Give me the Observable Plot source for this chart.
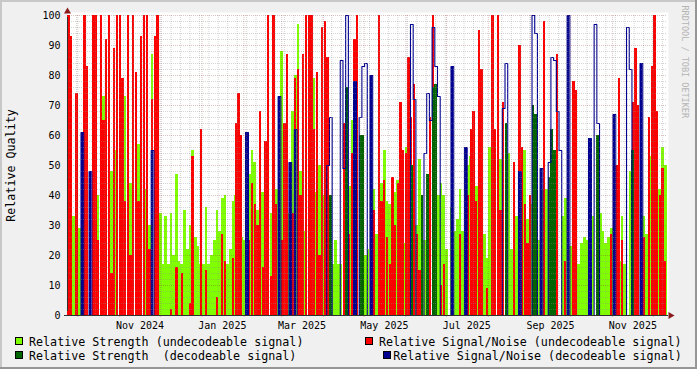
<!DOCTYPE html>
<html><head><meta charset="utf-8">
<script src="https://cdn.jsdelivr.net/npm/d3@7"></script>
<script src="https://cdn.jsdelivr.net/npm/@observablehq/plot@0.6"></script>
<style>
html,body{margin:0;padding:0;background:#f0f0f0;}
#wrap{position:relative;width:697px;height:369px;background:#f0f0f0;overflow:hidden;font-family:"DejaVu Sans Mono",monospace;}
#wrap svg{position:absolute;left:0;top:0;}
.b{position:absolute;}
.leg{position:absolute;white-space:pre;font-size:11.7px;line-height:14px;color:#000;}
.sw{position:absolute;width:6px;height:6px;border:1px solid #000;}
</style></head>
<body><div id="wrap"></div>
<script>
// ---- data: one value every 2 days, starting 2024-09-23 ----
const binDays = 2;
const strengthUndec = [
35,50,33,34,29,45,40,null,null,null,
null,40,null,73,null,null,48,55,null,null,
null,73,null,44,null,null,57,null,null,42,
30,87,null,null,34,17,33,17,34,20,
47,18,17,35,22,30,55,26,23,17,
17,36,17,20,25,35,28,39,40,17,
22,38,40,26,26,25,17,47,55,51,
35,45,41,34,null,34,null,42,23,88,
34,40,34,68,80,97,48,28,97,null,
null,79,41,50,40,null,null,null,17,25,
17,17,null,null,43,65,null,null,58,null,
20,22,null,42,27,22,44,55,38,37,
35,41,45,17,24,56,null,null,45,30,
52,40,25,null,null,null,null,40,44,40,
22,null,36,28,32,42,28,null,50,53,
52,43,null,33,27,19,56,null,null,null,
52,null,null,54,22,21,33,null,36,55,
32,37,61,62,25,17,42,42,17,null,
null,null,null,33,39,29,23,37,29,17,
24,26,25,19,33,null,null,34,28,24,
26,29,34,24,18,33,17,null,48,null,
null,null,55,33,27,34,53,48,38,42,
56,50];
const snUndec = [
100,93,null,74,null,null,100,83,null,100,
100,25,100,65,92,100,14,89,100,100,
79,38,100,20,100,81,38,93,100,100,
22,72,93,100,null,null,null,null,2,null,
16,null,14,null,null,4,53,null,null,62,
null,15,null,null,null,6,null,27,18,null,
null,19,64,74,60,null,null,25,44,37,
30,68,16,58,100,13,100,37,null,25,
64,87,null,34,79,82,40,87,100,100,
100,62,81,20,96,98,86,null,null,null,
null,null,64,null,27,54,92,100,null,null,
null,null,null,35,null,100,38,45,26,17,
46,30,44,71,55,54,86,66,77,27,
15,null,null,null,66,100,52,null,10,17,
null,null,null,null,null,27,null,null,40,62,
68,38,95,82,null,9,null,100,62,100,
35,71,null,null,null,51,null,90,56,37,
24,40,null,null,null,null,98,null,null,null,
null,87,null,null,18,null,null,78,75,null,
null,null,null,null,null,null,58,null,null,null,
null,27,null,50,79,25,null,null,null,71,
89,70,null,26,null,66,83,100,68,40,
49,18];
// decodeable days: [bin index, value]
const strengthDec = [[97,40],[103,76],[108,60],[109,60],[127,50],[131,40],[133,47],[135,76],[136,77],
  [162,64],[172,70],[173,67],[178,46],[179,62],[180,55],[196,60],[209,55]];
const snDec = [[5,61],[8,48],[31,55],[66,61],[78,73],[82,51],[84,62],[96,50],[97,66],[101,85],[102,49],
  [103,100],[106,78],[108,66],[109,83],[110,84],[112,80],[127,97],[128,72],[132,54],[133,74],[134,65],
  [135,96],[136,83],[137,73],[142,83],[147,56],[161,69],[162,84],[167,48],[172,100],[173,94],[175,49],
  [178,51],[179,86],[180,85],[181,68],[182,55],[185,100],[193,59],[195,97],[196,64],[202,67],[207,96],
  [208,82],[212,84]];
const yTicks = [0,10,20,30,40,50,60,70,80,90,100];
const xTickDates = ["2024-11-16","2025-01-16","2025-03-16","2025-05-16","2025-07-16","2025-09-16","2025-11-16"];
const xTickLabels = ["Nov 2024","Jan 2025","Mar 2025","May 2025","Jul 2025","Sep 2025","Nov 2025"];
const seriesNames = ["Relative Strength (undecodeable signal)","Relative Signal/Noise (undecodeable signal)",
  "Relative Strength  (decodeable signal)","Relative Signal/Noise (decodeable signal)"];
const seriesColors = ["#80ff00","#ff0000","#006400","#000090"];

// ---- build ----
const DAY = 86400000;
const t0 = Date.UTC(2024, 8, 23, 8);
const tEnd = t0 + 444.33 * DAY;
const N = strengthUndec.length;
const bins = d3.range(N).map(i => ({x1: new Date(t0 + i*binDays*DAY), x2: new Date(t0 + (i+1)*binDays*DAY)}));
const gRows = bins.map((b,i) => ({...b, v: strengthUndec[i]})).filter(d => d.v != null);
const rRows = bins.map((b,i) => ({...b, v: snUndec[i]})).filter(d => d.v != null);
const dRows = strengthDec.map(([i,v]) => ({...bins[i], v}));
const bMap = new Map(snDec);
const bLine = bins.map((b,i) => ({x: b.x1, v: bMap.get(i) ?? 0}));
bLine.push({x: bins[N-1].x2, v: 0});
// single-day decodeable spikes render as solid columns (line up and back down)
const bSolo = snDec.filter(([i]) => !bMap.has(i-1) && !bMap.has(i+1)).map(([i,v]) => ({...bins[i], v}));

const start = new Date(t0), end = new Date(tEnd);
const months = d3.utcMonth.range(start, end);
const weeks = d3.utcMonday.range(start, end);
const minorY = d3.range(0, 101, 2).filter(v => v % 10 !== 0);
const tickDates = xTickDates.map(s => new Date(s + "T00:00Z"));
const labelOf = new Map(tickDates.map((d,i) => [+d, xTickLabels[i]]));

const GRID = "rgba(140,140,140,0.36)";
const MGRID = "rgba(130,30,30,0.27)";
const AXIS = "#303030";
const ARROW = "#8b1c1c";

const plot = Plot.plot({
  width: 697, height: 332,
  marginLeft: 67, marginRight: 30, marginTop: 15, marginBottom: 17,
  style: {fontFamily: '"DejaVu Sans Mono", monospace', fontSize: "10px", background: "transparent", overflow: "visible", color: "#000"},
  x: {type: "utc", domain: [start, end]},
  y: {domain: [0, 100]},
  marks: [
    Plot.frame({fill: "white", stroke: null, insetTop: -3, insetRight: -1}),
    Plot.rect(gRows, {x1: "x1", x2: "x2", y1: 0, y2: "v", fill: seriesColors[0], shapeRendering: "crispEdges"}),
    Plot.rect(rRows, {x1: "x1", x2: "x2", y1: 0, y2: "v", fill: seriesColors[1], insetLeft: 0.2, insetRight: 0.2, shapeRendering: "crispEdges"}),
    Plot.rect(dRows, {x1: "x1", x2: "x2", y1: 0, y2: "v", fill: seriesColors[2], shapeRendering: "crispEdges"}),
    Plot.rect(bSolo, {x1: "x1", x2: "x2", y1: 0, y2: "v", fill: seriesColors[3], insetLeft: 0.2, insetRight: 0.2, shapeRendering: "crispEdges"}),
    Plot.line(bLine, {x: "x", y: "v", curve: "step-after", stroke: seriesColors[3], strokeWidth: 1.1}),
    Plot.gridX(weeks, {stroke: GRID, strokeOpacity: 1, strokeDasharray: "1,1"}),
    Plot.gridY(minorY, {stroke: GRID, strokeOpacity: 1, strokeDasharray: "1,1"}),
    Plot.gridX(months, {stroke: MGRID, strokeOpacity: 1, strokeDasharray: "1,1"}),
    Plot.gridY(yTicks.filter(v => v > 0), {stroke: MGRID, strokeOpacity: 1, strokeDasharray: "1,1"}),
    Plot.ruleY([0], {stroke: AXIS, insetLeft: -3, insetRight: -1}),
    Plot.ruleX([start], {y1: 0, y2: 100, stroke: AXIS, insetTop: -4, insetBottom: -2}),
    Plot.dot([{x: start, y: 100}], {x: "x", y: "y", symbol: "triangle", r: 2.6, dy: -4, fill: ARROW, stroke: null}),
    Plot.dot([{x: end, y: 0}], {x: "x", y: "y", symbol: "triangle", r: 2.6, dx: 3, rotate: 90, fill: ARROW, stroke: null}),
    Plot.axisY({ticks: yTicks, tickSize: 0, tickPadding: 7, label: null, fontSize: 10}),
    Plot.axisX({ticks: months, tickSize: 2, tickFormat: () => "", label: null, stroke: MGRID}),
    Plot.axisX({ticks: tickDates, tickSize: 0, tickPadding: 6, tickFormat: d => labelOf.get(+d), label: null, fontSize: 10}),
    Plot.text(["Relative Quality"], {text: d => d, frameAnchor: "left", dx: -55.8, rotate: -90, textAnchor: "middle", fontSize: 11.7, fill: "#000"}),
    Plot.text(["RRDTOOL / TOBI OETIKER"], {text: d => d, frameAnchor: "top-right", dx: 21, dy: -10, rotate: 90, textAnchor: "start", fontSize: 8.5, fill: "#b4b4b4"})
  ]
});

const wrap = document.getElementById("wrap");
wrap.appendChild(plot);

// legend
const legPos = [[15, 29, 0], [365, 379, 0], [15, 29, 1], [383.3, 393.3, 1]];
seriesNames.forEach((name, i) => {
  const [sx, tx, row] = legPos[i];
  const sw = document.createElement("div");
  sw.className = "sw";
  sw.style.left = sx + "px"; sw.style.top = (337 + row*14) + "px";
  sw.style.background = seriesColors[i];
  wrap.appendChild(sw);
  const t = document.createElement("div");
  t.className = "leg";
  t.style.left = tx + "px"; t.style.top = (334.5 + row*14) + "px";
  t.textContent = name;
  wrap.appendChild(t);
});
// 3D-ish border
[["0px","0px","697px","2px","#c8c8c8"],["0px","0px","2px","369px","#c8c8c8"],
 ["0px","367px","697px","2px","#969696"],["695px","0px","2px","369px","#969696"]].forEach(([l,t,w,h,c]) => {
  const d = document.createElement("div"); d.className = "b";
  Object.assign(d.style, {left: l, top: t, width: w, height: h, background: c});
  wrap.appendChild(d);
});
</script>
</body></html>
